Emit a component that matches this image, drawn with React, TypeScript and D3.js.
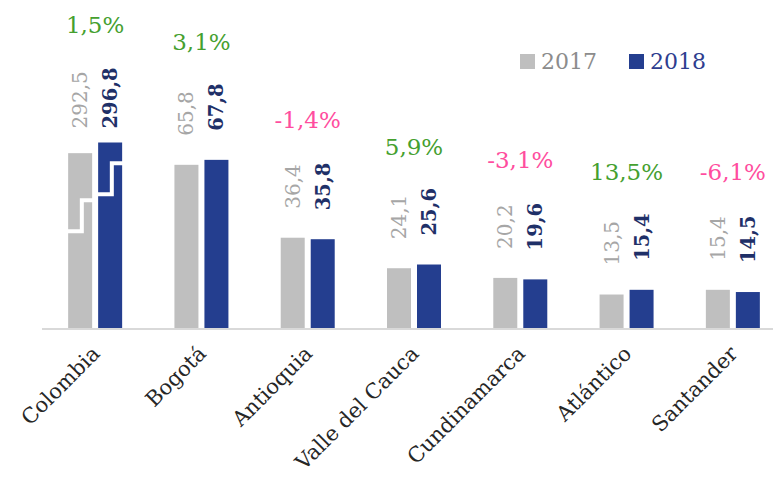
import React from 'react'
import * as d3 from 'd3'

// chart data
const categories = ['Colombia', 'Bogotá', 'Antioquia', 'Valle del Cauca', 'Cundinamarca', 'Atlántico', 'Santander']
const values2017 = [292.5, 65.8, 36.4, 24.1, 20.2, 13.5, 15.4]
const values2018 = [296.8, 67.8, 35.8, 25.6, 19.6, 15.4, 14.5]
const changeLabels = ['1,5%', '3,1%', '-1,4%', '5,9%', '-3,1%', '13,5%', '-6,1%']
const seriesNames = ['2017', '2018']

// axis break: bars above breakAbove are drawn shortened by breakCut
const breakAbove = 100
const breakCut = 222
const breakLevel = 39

const W = 773
const H = 478
const baseY = 328

const barFill = ['#bfbfbf', '#243e8f']
const labelFill = ['#a6a6a6', '#1f3068']
const legendText = ['#8c8c8c', '#2e3d8f']
const font = '"DejaVu Serif", serif'

const locale = d3.formatLocale({ decimal: ',', thousands: '.', grouping: [3], currency: ['', ''] })
const fmt = locale.format('.1f')

const display = (v: number) => (v > breakAbove ? v - breakCut : v)

const App = () => {
  const series = [values2017, values2018]

  const x0 = d3.scaleBand().domain(categories).range([42, 786]).paddingInner(0.492).paddingOuter(0.246)
  const x1 = d3.scaleBand().domain(seriesNames).range([0, x0.bandwidth()]).paddingInner(0.2)
  const y = d3.scaleLinear().domain([0, 100]).range([baseY, baseY - 248])

  const groups = categories.map((cat, ci) => {
    const gx = x0(cat) as number
    const broken = series.some((s) => s[ci] > breakAbove)
    const maxDisp = d3.max(series, (s) => display(s[ci])) as number
    const groupTop = y(maxDisp)

    const bars = series.map((s, si) => {
      const bx = gx + (x1(seriesNames[si]) as number)
      const v = display(s[ci])
      const top = y(v)
      const bw = x1.bandwidth()
      const labelY = broken ? groupTop - 14 : top - 29
      const lx = bx + bw / 2 + 7
      let brk = null
      if (s[ci] > breakAbove) {
        const lower = y(breakLevel) - si * 37
        const upper = lower - 31
        const sx = bx + bw * 0.57
        brk = (
          <path
            d={`M${bx - 1},${lower}H${sx}V${upper}H${bx + bw + 1}`}
            fill="none"
            stroke="#fff"
            strokeWidth={4}
          />
        )
      }
      return (
        <g key={si}>
          <rect x={bx} y={top} width={bw} height={baseY - top} fill={barFill[si]} />
          {brk}
          <text
            transform={`translate(${lx},${labelY}) rotate(-90)`}
            fontFamily={font}
            fontSize={si === 1 ? 19.5 : 20}
            fontWeight={si === 1 ? 'bold' : 'normal'}
            fill={labelFill[si]}
          >
            {fmt(s[ci])}
          </text>
        </g>
      )
    })

    const cx = gx + x0.bandwidth() / 2
    const pos = !changeLabels[ci].startsWith('-')
    return (
      <g key={cat}>
        {bars}
        <text
          x={cx}
          y={groupTop - 118}
          dy="0.35em"
          textAnchor="middle"
          fontFamily={font}
          fontSize={23}
          fill={pos ? '#45a02f' : '#ff4d9e'}
        >
          {changeLabels[ci]}
        </text>
        <text
          transform={`translate(${cx + 6},${baseY + 27}) rotate(-45)`}
          textAnchor="end"
          fontFamily={font}
          fontSize={21}
          fill="#262626"
        >
          {cat}
        </text>
      </g>
    )
  })

  const legendX = [520, 629]

  return (
    <div style={{ position: 'absolute', left: 0, top: 0 }}>
      <svg width={W} height={H} style={{ display: 'block', background: '#fff' }}>
        <line x1={42} x2={W} y1={baseY + 1} y2={baseY + 1} stroke="#d9d9d9" strokeWidth={2} />
        {groups}
        {seriesNames.map((name, i) => (
          <g key={name}>
            <rect x={legendX[i]} y={54} width={15} height={15} fill={barFill[i]} />
            <text x={legendX[i] + 21} y={69} fontFamily={font} fontSize={22} fill={legendText[i]}>
              {name}
            </text>
          </g>
        ))}
      </svg>
    </div>
  )
}

export default App
